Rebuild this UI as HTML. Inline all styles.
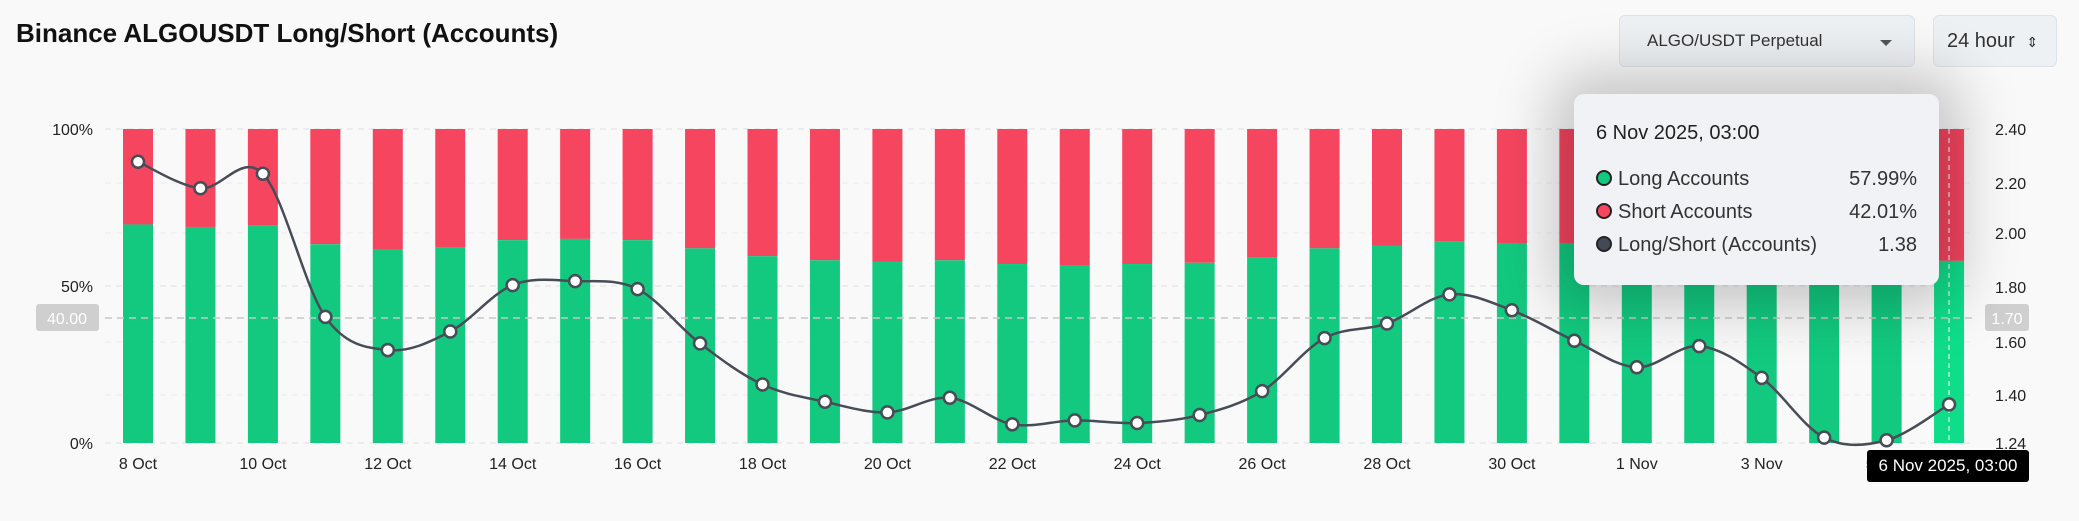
<!DOCTYPE html>
<html><head><meta charset="utf-8"><style>
body{margin:0;width:2079px;height:521px;background:#f9f9f9;font-family:"Liberation Sans",sans-serif;overflow:hidden;position:relative}
.t{position:absolute;left:16px;top:18px;font-size:26px;font-weight:bold;color:#111}
.dd{position:absolute;left:1619px;top:15px;width:296px;height:52px;border:1px solid #dde3ea;border-radius:6px;background:#eef1f4;box-sizing:border-box;font-size:17px;color:#333;line-height:50px;padding-left:27px}
.dd:after{content:"";position:absolute;right:22px;top:24px;border:6px solid transparent;border-top:6px solid #555}
.hr{position:absolute;left:1933px;top:15px;width:124px;height:52px;border:1px solid #dde3ea;border-radius:6px;background:#eef1f4;box-sizing:border-box;font-size:20px;color:#333;line-height:50px;padding-left:13px}
.tip{position:absolute;left:1574px;top:94px;width:365px;height:191px;background:#f0f2f5;border-radius:10px;box-shadow:0 0 60px 20px rgba(0,0,0,.22);box-sizing:border-box;padding:28px 22px;color:#222}
.tip .h{font-size:20px;margin-bottom:18px}
.tip .r{font-size:20px;display:flex;justify-content:space-between;height:33px;align-items:center;color:#333}
.tip .r span i{display:inline-block;width:12px;height:12px;border-radius:50%;border:2px solid #222;margin-right:6px;vertical-align:-1px}
</style></head><body>
<div class="t">Binance ALGOUSDT Long/Short (Accounts)</div>
<div class="dd">ALGO/USDT Perpetual</div>
<div class="hr">24 hour <span style="font-size:14px;margin-left:6px">⇕</span></div>
<svg id="s" width="2079" height="521" style="position:absolute;left:0;top:0"></svg>
<div class="tip"><div class="h">6 Nov 2025, 03:00</div>
<div class="r"><span><i style="background:#12c97f"></i>Long Accounts</span><b style="font-weight:normal">57.99%</b></div>
<div class="r"><span><i style="background:#f5455f"></i>Short Accounts</span><b style="font-weight:normal">42.01%</b></div>
<div class="r"><span><i style="background:#444a55"></i>Long/Short (Accounts)</span><b style="font-weight:normal">1.38</b></div></div>
<div style="position:absolute;left:1867px;top:450px;width:162px;height:32px;background:#000;color:#fff;font-size:17px;line-height:32px;text-align:center;border-radius:3px">6 Nov 2025, 03:00</div>
<script>
(function(){
var L=[69.6,68.8,69.2,63.3,61.6,62.4,64.6,65,64.6,62,59.5,58.2,57.8,58.2,57,56.5,57,57.4,59,62,62.9,64.1,63.7,63.7,62.1,61,62,60,59,58];
var P=[122,142,131,239,264,250,215,212,218,259,290,303,311,300,320,317,319,313,295,255,244,222,234,257,277,261,285,330,332,305];
var s='',T=129,B=443,H=314;
function x(i){return 138+i*62.45}
[129,286,443].forEach(function(y){s+='<line x1="105" x2="1975" y1="'+y+'" y2="'+y+'" stroke="#e0e0e0" stroke-dasharray="6,5"/>'});
[183,233,342,395].forEach(function(y){s+='<line x1="105" x2="1975" y1="'+y+'" y2="'+y+'" stroke="#ececec" stroke-dasharray="6,5"/>'});
for(var i=0;i<30;i++){var gy=B-L[i]/100*H,xx=x(i)-15;
s+='<rect x="'+xx+'" y="'+T+'" width="30" height="'+(gy-T)+'" fill="#f5455f"/>';
s+='<rect x="'+xx+'" y="'+gy+'" width="30" height="'+(B-gy)+'" fill="'+(i==29?'#10dd8a':'#12c97f')+'"/>';}
s+='<line x1="105" x2="1975" y1="318" y2="318" stroke="#c8c8c8" stroke-width="1.5" stroke-dasharray="7,5"/>';
s+='<line x1="1949" x2="1949" y1="129" y2="443" stroke="#fff" stroke-dasharray="5,4"/>';
var pts=P.map(function(p,i){return [x(i),p*1.326]});
var d='M'+pts[0][0]+','+pts[0][1];
for(var i=0;i<pts.length-1;i++){var p0=pts[i-1]||pts[i],p1=pts[i],p2=pts[i+1],p3=pts[i+2]||p2;
d+=' C'+(p1[0]+(p2[0]-p0[0])/6)+','+(p1[1]+(p2[1]-p0[1])/6)+' '+(p2[0]-(p3[0]-p1[0])/6)+','+(p2[1]-(p3[1]-p1[1])/6)+' '+p2[0]+','+p2[1];}
s+='<path d="'+d+'" fill="none" stroke="#474c57" stroke-width="2.5"/>';
pts.forEach(function(p){s+='<circle cx="'+p[0]+'" cy="'+p[1]+'" r="6" fill="#fff" stroke="#474c57" stroke-width="2.5"/>'});
[[129,'100%'],[286,'50%'],[443,'0%']].forEach(function(a){s+='<text x="93" y="'+(a[0]+6)+'" text-anchor="end" font-size="16" fill="#222">'+a[1]+'</text>'});
[[129,'2.40'],[183,'2.20'],[233,'2.00'],[287,'1.80'],[342,'1.60'],[395,'1.40'],[443,'1.24']].forEach(function(a){s+='<text x="1995" y="'+(a[0]+6)+'" font-size="16" fill="#222">'+a[1]+'</text>'});
s+='<rect x="36" y="304" width="63" height="27" rx="3" fill="#cfcfcf"/><text x="67" y="324" text-anchor="middle" font-size="16" fill="#fff">40.00</text>';
s+='<rect x="1985" y="304" width="44" height="27" rx="3" fill="#cfcfcf"/><text x="2007" y="324" text-anchor="middle" font-size="16" fill="#fff">1.70</text>';
var xl=['8 Oct','10 Oct','12 Oct','14 Oct','16 Oct','18 Oct','20 Oct','22 Oct','24 Oct','26 Oct','28 Oct','30 Oct','1 Nov','3 Nov','5 Nov'];
xl.forEach(function(t,k){s+='<text x="'+x(k*2)+'" y="469" text-anchor="middle" font-size="16" fill="#222">'+t+'</text>'});
document.getElementById('s').innerHTML=s;
})();
</script>
</body></html>
